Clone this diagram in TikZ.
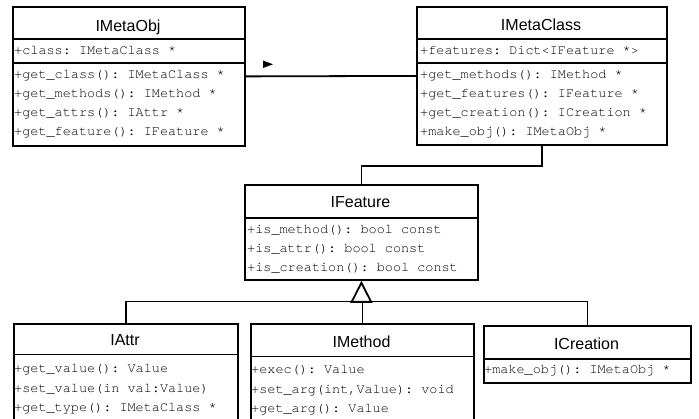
\documentclass[tikz,border=0pt]{standalone}
\usepackage{fontspec}
\usetikzlibrary{arrows.meta}
\newfontfamily\umlsans{Liberation Sans}
\newfontfamily\umlmono{TeX Gyre Cursor}
\newcommand\umltitlefont{\umlsans\fontsize{16}{18}\selectfont}
\newcommand\umlmemberfont{\umlmono\fontsize{13.5}{16}\selectfont\frenchspacing}
\tikzset{
  classbox/.style={draw, line width=1.8pt, inner sep=0pt, anchor=north west},
  sepline/.style={line width=1.8pt},
  edge/.style={line width=1.8pt},
  classtitle/.style={font=\umltitlefont, inner sep=0pt, anchor=base},
  member/.style={font=\umlmemberfont, inner sep=0pt, anchor=base west},
}
\begin{document}
\begin{tikzpicture}[x=1pt, y=-1pt]
\useasboundingbox (0,0) rectangle (699,419);
\clip (0,0) rectangle (699,419);

% ---- IMetaObj ----
\node[classbox, minimum width=232pt, minimum height=139pt] (imetaobj) at (12,6) {};
\draw[sepline] (imetaobj.west |- 0,39) -- (imetaobj.east |- 0,39);
\draw[sepline] (imetaobj.west |- 0,63) -- (imetaobj.east |- 0,63);
\node[classtitle] (imetaobj-t) at (128,31.3) {IMetaObj};
\node[member] (imetaobj-a1) at (14,55) {+class: IMetaClass *};
\node[member] (imetaobj-m1) at (14,79) {+get\_class(): IMetaClass *};
\node[member] (imetaobj-m2) at (14,98) {+get\_methods(): IMethod *};
\node[member] (imetaobj-m3) at (14,117) {+get\_attrs(): IAttr *};
\node[member] (imetaobj-m4) at (14,136) {+get\_feature(): IFeature *};

% ---- IMetaClass ----
\node[classbox, minimum width=250pt, minimum height=138pt] (imetaclass) at (416,6) {};
\draw[sepline] (imetaclass.west |- 0,39) -- (imetaclass.east |- 0,39);
\draw[sepline] (imetaclass.west |- 0,63) -- (imetaclass.east |- 0,63);
\node[classtitle] (imetaclass-t) at (541,30.7) {IMetaClass};
\node[member] (imetaclass-a1) at (420,55) {+features: Dict<IFeature *>};
\node[member] (imetaclass-m1) at (420,79) {+get\_methods(): IMethod *};
\node[member] (imetaclass-m2) at (420,98) {+get\_features(): IFeature *};
\node[member] (imetaclass-m3) at (420,117) {+get\_creation(): ICreation *};
\node[member] (imetaclass-m4) at (420,136) {+make\_obj(): IMetaObj *};

% ---- IFeature ----
\node[classbox, minimum width=233pt, minimum height=95pt] (ifeature) at (244,184) {};
\draw[sepline] (ifeature.west |- 0,218) -- (ifeature.east |- 0,218);
\node[classtitle] (ifeature-t) at (360.5,207.7) {IFeature};
\node[member] (ifeature-m1) at (247,233.5) {+is\_method(): bool const};
\node[member] (ifeature-m2) at (247,253) {+is\_attr(): bool const};
\node[member] (ifeature-m3) at (247,272) {+is\_creation(): bool const};

% ---- IAttr ----
\node[classbox, minimum width=224pt, minimum height=107pt] (iattr) at (13,323) {};
\draw[sepline] (iattr.west |- 0,354.5) -- (iattr.east |- 0,354.5);
\node[classtitle] (iattr-t) at (125,346) {IAttr};
\node[member] (iattr-m1) at (14,373) {+get\_value(): Value};
\node[member] (iattr-m2) at (14,392.7) {+set\_value(in val:Value)};
\node[member] (iattr-m3) at (14,411.7) {+get\_type(): IMetaClass *};

% ---- IMethod ----
\node[classbox, minimum width=223pt, minimum height=107pt] (imethod) at (250,323) {};
\draw[sepline] (imethod.west |- 0,356.5) -- (imethod.east |- 0,356.5);
\node[classtitle] (imethod-t) at (361.5,347.3) {IMethod};
\node[member] (imethod-m1) at (251,374) {+exec(): Value};
\node[member] (imethod-m2) at (251,393.3) {+set\_arg(int,Value): void};
\node[member] (imethod-m3) at (251,412.3) {+get\_arg(): Value};

% ---- ICreation ----
\node[classbox, minimum width=207pt, minimum height=57pt] (icreation) at (483,325) {};
\draw[sepline] (icreation.west |- 0,359) -- (icreation.east |- 0,359);
\node[classtitle] (icreation-t) at (586.5,350) {ICreation};
\node[member] (icreation-m1) at (484,374) {+make\_obj(): IMetaObj *};

% ---- association IMetaObj -- IMetaClass with direction marker ----
\draw[edge] (imetaobj.east) -- (imetaclass.west);
\fill (263,60.5) -- (273,64.3) -- (263,68) -- cycle;

% ---- IMetaClass -- IFeature ----
\draw[edge] (imetaclass.south) -- ++(0,20) -| (ifeature.north);

% ---- generalisation bus ----
\coordinate (bus) at (360.5,301.5);
\draw[edge] (iattr.north) |- (bus) -| (icreation.north);
\draw[edge] (imethod.north) -- (imethod.north |- bus);
\draw[edge, -{Triangle[open, width=22pt, length=22pt, line width=1.8pt]}]
  (ifeature.south |- bus) -- (ifeature.south);
\end{tikzpicture}
\end{document}
